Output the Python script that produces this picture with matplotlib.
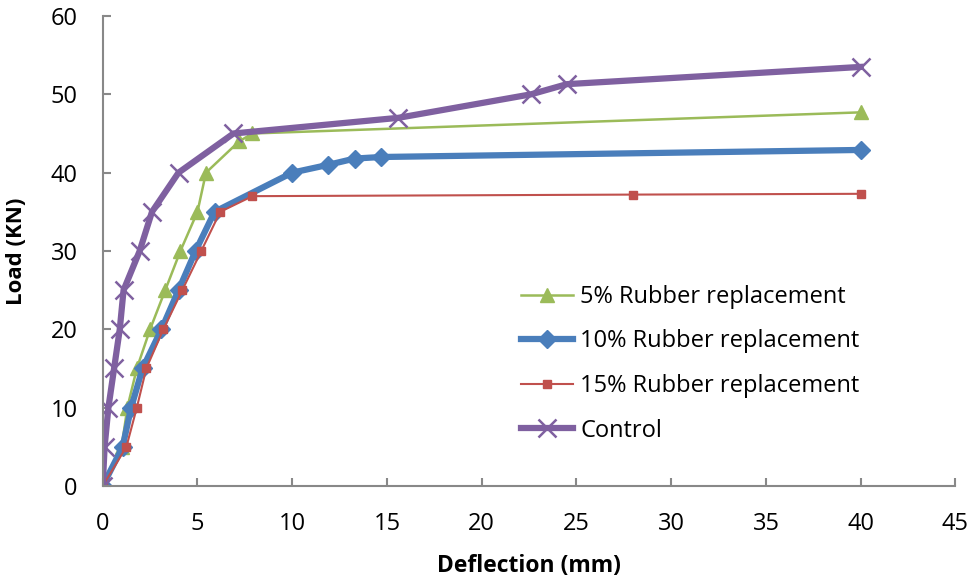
import numpy as np
import matplotlib
matplotlib.use('Agg')
import matplotlib.pyplot as plt

plt.rcParams['font.family'] = ['Open Sans', 'DejaVu Sans']

# ---- data ----
x_5 = [0, 1.0, 1.3, 1.8, 2.5, 3.3, 4.1, 5.0, 5.45, 7.2, 7.9, 40]
y_5 = [0, 5, 10, 15, 20, 25, 30, 35, 40, 44, 45, 47.7]

x_10 = [0, 1.05, 1.5, 2.1, 3.1, 4.0, 4.9, 5.9, 10, 11.9, 13.3, 14.7, 40]
y_10 = [0, 5, 10, 15, 20, 25, 30, 35, 40, 41, 41.8, 42, 42.9]

x_15 = [0, 1.25, 1.8, 2.3, 3.2, 4.2, 5.2, 6.2, 7.9, 28.0, 40]
y_15 = [0, 5, 10, 15, 20, 25, 30, 35, 37, 37.2, 37.3]

x_ctrl = [0, 0.1, 0.3, 0.6, 0.9, 1.1, 1.95, 2.6, 4.0, 6.9, 15.6, 22.6, 24.5, 40]
y_ctrl = [0, 5, 10, 15, 20, 25, 30, 35, 40, 45, 47, 50, 51.3, 53.5]

labels = ['5% Rubber replacement', '10% Rubber replacement',
          '15% Rubber replacement', 'Control']

fig = plt.figure(figsize=(9.69, 5.82), dpi=100)
ax = fig.add_axes([0.106, 0.165, 0.88, 0.8075])

ax.plot(x_5, y_5, color='#9BBB59', lw=1.8, marker='^', ms=10, label=labels[0])
ax.plot(x_10, y_10, color='#4A7EBB', lw=4.5, marker='D', ms=9, label=labels[1])
ax.plot(x_15, y_15, color='#C0504D', lw=1.5, marker='s', ms=6, label=labels[2])
ax.plot(x_ctrl, y_ctrl, color='#7F60A0', lw=4.5, marker='x', ms=13, mew=1.8,
        label=labels[3])

ax.set_xlim(0, 45)
ax.set_ylim(0, 60)
ax.set_xticks(np.arange(0, 46, 5))
ax.set_yticks(np.arange(0, 61, 10))

for s in ['top', 'right']:
    ax.spines[s].set_visible(False)
for s in ['left', 'bottom']:
    ax.spines[s].set_color('#888888')
    ax.spines[s].set_linewidth(1.5)
ax.tick_params(colors='#888888', width=1.5, length=6, direction='in',
               labelcolor='black', labelsize=17)
ax.tick_params(axis='x', pad=19)
ax.tick_params(axis='y', pad=18)

ax.set_xlabel('Deflection (mm)', fontsize=16.5, fontweight='bold', labelpad=13)
ax.set_ylabel('Load (KN)', fontsize=16, fontweight='bold', labelpad=17)

ax.legend(loc='upper left', bbox_to_anchor=(0.466, 0.473), frameon=False,
          fontsize=17, handlelength=2.2, handletextpad=0.3, labelspacing=0.87)

fig.savefig('out.png', dpi=100)
